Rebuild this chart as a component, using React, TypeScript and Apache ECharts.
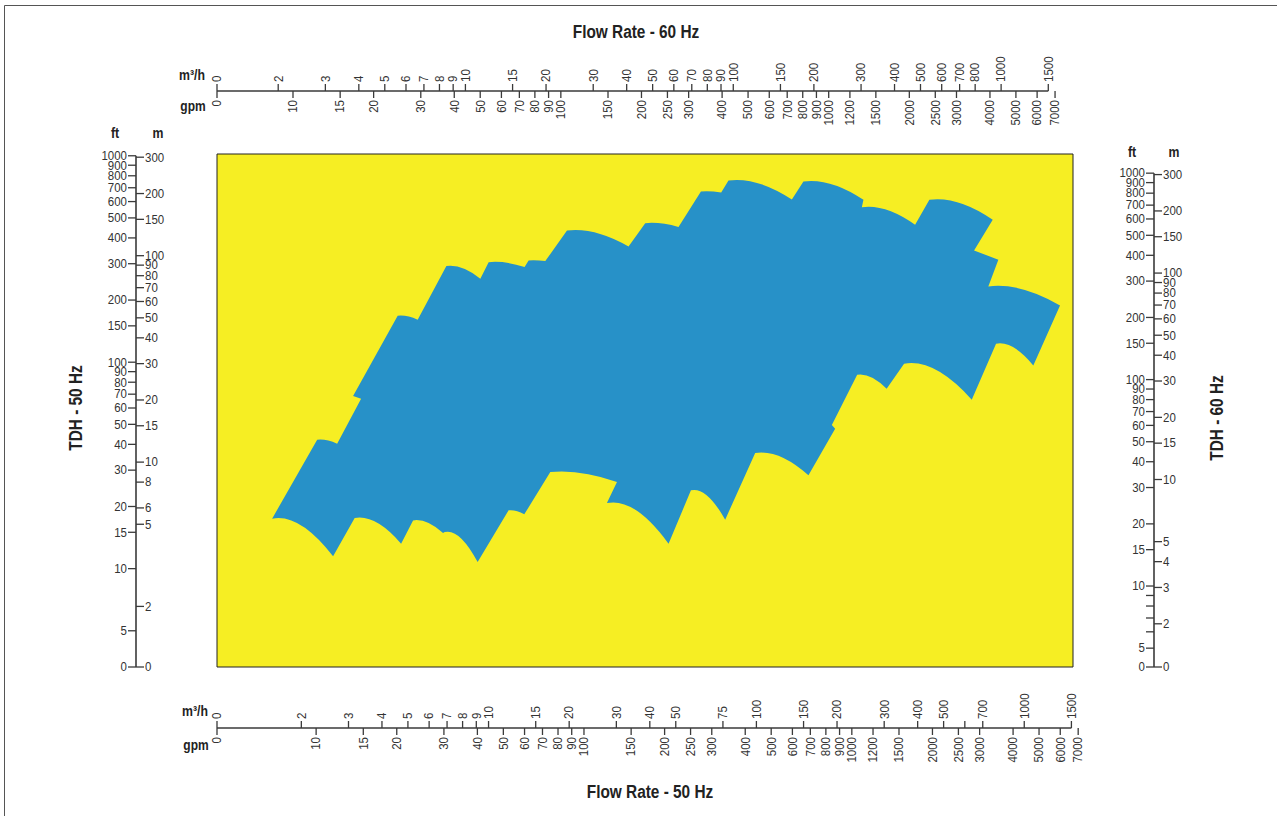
import React, { useEffect, useRef } from "react";
import * as echarts from "echarts";

// ---------- Coverage outline (50 Hz units: gpm, ft), clockwise ----------
const coverageGpm = [
  6.85, 10.09, 11.98, 14.72, 13.74, 20.16, 23.94, 30.64, 41.03, 44.06,
  60.02, 62.12, 71.72, 86.43, 146.7, 169.3, 225.4, 273.3, 325.3, 346.4,
  597.2, 659.7, 1105, 1090, 1723, 1948, 3358, 2860, 3524, 3233,
  5988, 4760, 3455, 2804, 1567, 1349, 1047, 842.2, 866.4, 688.8,
  435.7, 336.7, 250.8, 206.9, 121.8, 132.8, 74.87, 59.86, 52.32, 40.09,
  30.2, 29.78, 23.01, 20.76, 13.93, 11.57,
];
const coverageFt = [
  17.46, 42.14, 40.3, 66.56, 68.52, 168.0, 160.6, 292.1, 253.8, 305.3,
  288.8, 311.2, 308.8, 434.8, 363.8, 471.6, 452.1, 671.6, 664.2, 759.4,
  614.3, 750.9, 612.2, 563.7, 463.3, 612.2, 489.8, 347.9, 313.6, 232.9,
  188.4, 96.5, 122.9, 65.83, 98.3, 74.4, 87.0, 49.6, 47.6, 28.3,
  36.3, 17.27, 23.94, 13.21, 20.78, 26.27, 29.36, 18.32, 19.16, 10.76,
  15.04, 14.87, 17.13, 13.21, 17.58, 11.47,
];
// edge from point i to i+1: L = straight, C = pump curve
const coverageEdge = (
  "LCLLLCLCLC" + "LCLCLCLCLC" + "LCLCLCLLLC" + "LCLCLCLLLC" + "LCLCLCLCLC" + "LCLCLC"
).split("");

// ---------- Tick values ----------
const topM3h = [0, 2, 3, 4, 5, 6, 7, 8, 9, 10, 15, 20, 30, 40, 50, 60, 70, 80, 90, 100, 150, 200, 300, 400, 500, 600, 700, 800, 1000, 1500];
const topGpm = [0, 10, 15, 20, 30, 40, 50, 60, 70, 80, 90, 100, 150, 200, 250, 300, 400, 500, 600, 700, 800, 900, 1000, 1200, 1500, 2000, 2500, 3000, 4000, 5000, 6000, 7000];
const bottomM3h = [0, 2, 3, 4, 5, 6, 7, 8, 9, 10, 15, 20, 30, 40, 50, 75, 100, 150, 200, 300, 400, 500, 600, 700, 1000, 1500];
const bottomM3hUnlabeled = [600];
const bottomGpm = [0, 10, 15, 20, 30, 40, 50, 60, 70, 80, 90, 100, 150, 200, 250, 300, 400, 500, 600, 700, 800, 900, 1000, 1200, 1500, 2000, 2500, 3000, 4000, 5000, 6000, 7000];
const leftFt = [0, 5, 10, 15, 20, 30, 40, 50, 60, 70, 80, 90, 100, 150, 200, 300, 400, 500, 600, 700, 800, 900, 1000];
const leftM = [0, 2, 5, 6, 8, 10, 15, 20, 30, 40, 50, 60, 70, 80, 90, 100, 150, 200, 300];
const rightFt = [0, 5, 6, 7, 8, 9, 10, 15, 20, 30, 40, 50, 60, 70, 80, 90, 100, 150, 200, 300, 400, 500, 600, 700, 800, 900, 1000];
const rightFtUnlabeled = [6, 7, 8, 9];
const rightM = [0, 2, 3, 4, 5, 10, 15, 20, 30, 40, 50, 60, 70, 80, 90, 100, 150, 200, 300];

// ---------- Scale conversions ----------
const GPM50_MIN = 4.265;
const GPM50_MAX = 6695;
const FT50_MIN = 3.338;
const FT50_MAX = 1020;
const FLOW_RATIO = 1.22; // 60 Hz flow / 50 Hz flow at same position
const HEAD_RATIO = 1.214; // 60 Hz head / 50 Hz head at same position
const GPM_PER_M3H = 4.4029;
const FT_PER_M = 3.2808;

const lg = Math.log10;
const FONT = "'Liberation Sans', Arial, Helvetica, sans-serif";
const TEXT = "#333";
const LINE = "#3a3a3a";
const BLUE = "#2791C8";
const YELLOW = "#F6EE23";

type AxisSpec = {
  values: number[];
  unlabeled?: number[];
  kind: "x" | "y";
  toData: (v: number) => number;
  cross: number;
  dir: 1 | -1;
  drawLine: boolean;
};

function axisSeries(spec: AxisSpec) {
  const pos = (v: number) =>
    spec.kind === "x" ? [lg(spec.toData(v)), lg(FT50_MIN)] : [lg(GPM50_MIN), lg(spec.toData(v))];
  const tick = 7;
  return {
    type: "custom",
    coordinateSystem: "cartesian2d",
    silent: true,
    clip: false,
    z: 5,
    data: spec.values.map(pos),
    renderItem: (params: any, api: any) => {
      const i = params.dataIndex;
      const v = spec.values[i];
      const label = spec.unlabeled && spec.unlabeled.includes(v) ? "" : String(v);
      const p = api.coord([api.value(0), api.value(1)]);
      const children: any[] = [];
      const font = `13.5px ${FONT}`;
      if (spec.kind === "x") {
        const x = p[0];
        children.push({
          type: "line",
          shape: { x1: x, y1: spec.cross, x2: x, y2: spec.cross + spec.dir * tick },
          style: { stroke: LINE, lineWidth: 1.3 },
        });
        if (label)
          children.push({
            type: "text",
            x,
            y: spec.cross + spec.dir * (tick + 2),
            rotation: Math.PI / 2,
            scaleX: 0.85,
            style: {
              text: label,
              fill: TEXT,
              font,
              align: spec.dir < 0 ? "left" : "right",
              verticalAlign: "middle",
            },
          });
        if (i === 0 && spec.drawLine) {
          const last = api.coord(pos(spec.values[spec.values.length - 1]));
          children.push({
            type: "line",
            shape: { x1: x, y1: spec.cross, x2: last[0], y2: spec.cross },
            style: { stroke: LINE, lineWidth: 1.6 },
          });
        }
      } else {
        const y = p[1];
        children.push({
          type: "line",
          shape: { x1: spec.cross, y1: y, x2: spec.cross + spec.dir * (tick + 1), y2: y },
          style: { stroke: LINE, lineWidth: 1.3 },
        });
        if (label)
          children.push({
            type: "text",
            x: spec.cross + spec.dir * (tick + 2),
            y,
            scaleX: 0.85,
            style: {
              text: label,
              fill: TEXT,
              font,
              align: spec.dir < 0 ? "right" : "left",
              verticalAlign: "middle",
            },
          });
        if (i === 0 && spec.drawLine) {
          const last = api.coord(pos(spec.values[spec.values.length - 1]));
          children.push({
            type: "line",
            shape: { x1: spec.cross, y1: y, x2: spec.cross, y2: last[1] },
            style: { stroke: LINE, lineWidth: 1.6 },
          });
        }
      }
      return { type: "group", children };
    },
  };
}

function coverageSeries() {
  const n = coverageGpm.length;
  return {
    type: "custom",
    coordinateSystem: "cartesian2d",
    silent: true,
    clip: false,
    z: 3,
    data: coverageGpm.map((g, i) => [lg(g), lg(coverageFt[i])]),
    renderItem: (params: any, api: any) => {
      if (params.dataIndex !== 0) return null;
      const pts = coverageGpm.map((g, i) => api.coord([lg(g), lg(coverageFt[i])]));
      let d = `M${pts[0][0]} ${pts[0][1]}`;
      for (let i = 0; i < n; i++) {
        const p = pts[i];
        const q = pts[(i + 1) % n];
        if (coverageEdge[i] === "C") {
          const left = p[0] < q[0] ? p : q;
          const right = p[0] < q[0] ? q : p;
          const dx = right[0] - left[0];
          const dy = right[1] - left[1];
          const cx = left[0] + 0.45 * dx;
          const cy = left[1] - 0.1 * Math.abs(dy) - 0.03 * dx;
          d += ` Q${cx} ${cy} ${q[0]} ${q[1]}`;
        } else {
          d += ` L${q[0]} ${q[1]}`;
        }
      }
      d += " Z";
      return { type: "path", shape: { pathData: d }, style: { fill: BLUE } };
    },
  };
}

function txt(text: string, x: number, y: number, size: number, scaleX: number, rotate = 0) {
  return {
    type: "text",
    x,
    y,
    rotation: rotate,
    scaleX,
    silent: true,
    style: {
      text,
      font: `bold ${size}px ${FONT}`,
      fill: "#222",
      align: "center",
      verticalAlign: "middle",
      textAlign: "center",
      textVerticalAlign: "middle",
    },
  };
}

function buildOption() {
  const x60gpm = (v: number) => (v === 0 ? GPM50_MIN : v / FLOW_RATIO);
  const x60m3h = (v: number) => (v === 0 ? GPM50_MIN : (v * GPM_PER_M3H) / FLOW_RATIO);
  const x50gpm = (v: number) => (v === 0 ? GPM50_MIN : v);
  const x50m3h = (v: number) => (v === 0 ? GPM50_MIN : v * GPM_PER_M3H);
  const y50ft = (v: number) => (v === 0 ? FT50_MIN : v);
  const y50m = (v: number) => (v === 0 ? FT50_MIN : v * FT_PER_M);
  const y60ft = (v: number) => (v === 0 ? FT50_MIN : v / HEAD_RATIO);
  const y60m = (v: number) => (v === 0 ? FT50_MIN : (v * FT_PER_M) / HEAD_RATIO);

  return {
    animation: false,
    backgroundColor: "#fff",
    grid: {
      left: 217,
      top: 154,
      width: 856,
      height: 513,
      show: true,
      backgroundColor: YELLOW,
      borderColor: "#222",
      borderWidth: 1,
    },
    xAxis: { type: "value", min: lg(GPM50_MIN), max: lg(GPM50_MAX), show: false },
    yAxis: { type: "value", min: lg(FT50_MIN), max: lg(FT50_MAX), show: false },
    graphic: [
      {
        type: "rect",
        silent: true,
        shape: { x: 4.5, y: 5.5, width: 1400, height: 1000 },
        style: { fill: "none", stroke: "#555", lineWidth: 1 },
      },
      txt("Flow Rate - 60 Hz", 636, 31, 19, 0.81),
      txt("Flow Rate - 50 Hz", 650, 791, 19, 0.81),
      txt("TDH - 50 Hz", 75, 408, 19, 0.81, Math.PI / 2),
      txt("TDH - 60 Hz", 1216, 418, 19, 0.81, Math.PI / 2),
      txt("m³/h", 192, 75, 15, 0.82),
      txt("gpm", 193, 106, 15, 0.8),
      txt("m³/h", 195, 711, 15, 0.82),
      txt("gpm", 196, 745, 15, 0.8),
      txt("ft", 115, 133, 15, 0.82),
      txt("m", 158, 133, 15, 0.82),
      txt("ft", 1132, 152, 15, 0.82),
      txt("m", 1174, 152, 15, 0.82),
    ],
    series: [
      coverageSeries(),
      axisSeries({ values: topM3h, kind: "x", toData: x60m3h, cross: 91, dir: -1, drawLine: true }),
      axisSeries({ values: topGpm, kind: "x", toData: x60gpm, cross: 91, dir: 1, drawLine: false }),
      axisSeries({ values: bottomM3h, unlabeled: bottomM3hUnlabeled, kind: "x", toData: x50m3h, cross: 728, dir: -1, drawLine: true }),
      axisSeries({ values: bottomGpm, kind: "x", toData: x50gpm, cross: 728, dir: 1, drawLine: false }),
      axisSeries({ values: leftFt, kind: "y", toData: y50ft, cross: 136, dir: -1, drawLine: true }),
      axisSeries({ values: leftM, kind: "y", toData: y50m, cross: 136, dir: 1, drawLine: false }),
      axisSeries({ values: rightFt, unlabeled: rightFtUnlabeled, kind: "y", toData: y60ft, cross: 1154, dir: -1, drawLine: true }),
      axisSeries({ values: rightM, kind: "y", toData: y60m, cross: 1154, dir: 1, drawLine: false }),
    ],
  };
}

export default function App() {
  const ref = useRef<HTMLDivElement>(null);
  useEffect(() => {
    if (!ref.current) return;
    const chart = echarts.init(ref.current, undefined, { renderer: "svg" });
    chart.setOption(buildOption() as any);
    return () => chart.dispose();
  }, []);
  return (
    <div
      ref={ref}
      style={{ position: "absolute", left: 0, top: 0, width: 1277, height: 816, background: "#fff" }}
    />
  );
}
